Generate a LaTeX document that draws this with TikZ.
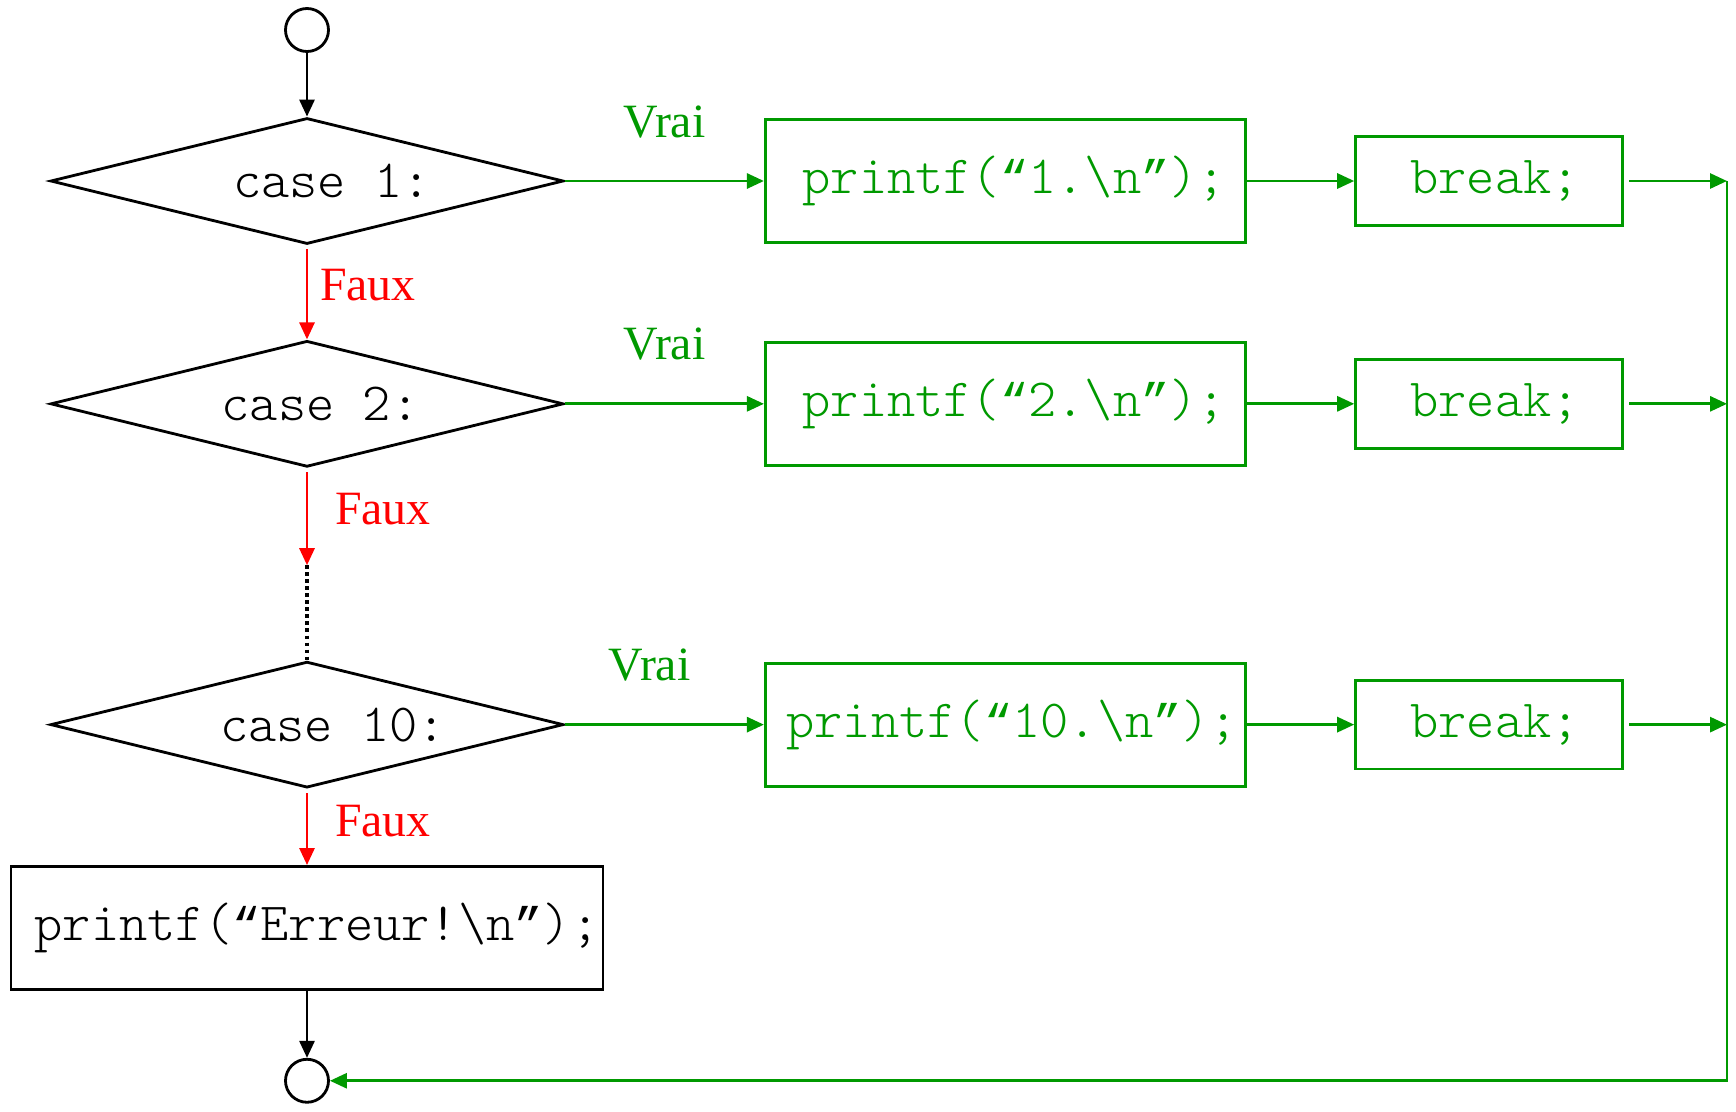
\documentclass[tikz,border=0pt]{standalone}
\usepackage{fontspec}
\setmainfont{Liberation Serif}
\setmonofont{Latin Modern Mono Light}
\newfontfamily\guilfont{Liberation Mono}
\newcommand{\qo}{{\guilfont\fontsize{13.4}{18}\selectfont “}}
\newcommand{\qf}{{\guilfont\fontsize{13.4}{18}\selectfont ”}}
\usepackage{tikz}
\usetikzlibrary{shapes.geometric, positioning, arrows.meta}
\definecolor{vert}{RGB}{0,153,0}
\definecolor{rouge}{RGB}{255,0,0}
\tikzset{
    >={Triangle[length=0.17cm, width=0.15cm]}, % filled arrow heads
    every node/.style={font=\fontsize{13.6}{16}\selectfont}, % labels in Times
    code/.style={font=\ttfamily\fontsize{15.3}{18}\selectfont}, % C code in a thin mono
    rond/.style={draw, circle, minimum size=0.43cm, inner sep=0pt}, % start and end
    cas/.style={code, draw, diamond, aspect=4, minimum width=5.13cm, minimum height=1.26cm, inner sep=0pt}, % the case tests
    bloc/.style={code, draw, rectangle, minimum height=1.23cm, inner sep=0pt}, % the printf boxes
    arret/.style={code, draw, rectangle, minimum width=2.67cm, minimum height=0.886cm, inner sep=0pt}, % the break boxes
    vrai/.style={->, vert}, % branch taken
    faux/.style={->, rouge, shorten <=0.04cm}, % branch not taken
    lblfaux/.style={pos=0.42, right=0.15cm}, % text beside the red arrows
}
\begin{document}
\begin{tikzpicture}[line width=0.8pt]
    \useasboundingbox (0,0) rectangle (17.36,-11.11);
    \node[rond] (debut) at (3.07,-0.30) {};
    \node[cas] (c1) at (3.07,-1.81) {\hspace*{0.5cm}case 1:};
    \node[cas, below=0.94cm of c1] (c2) {\hspace*{0.27cm}case 2:};
    \coordinate[below=0.97cm of c2.south] (pts);
    \node[cas, below=1.92cm of c2] (c10) {\hspace*{0.52cm}case 10:};
    \node[bloc, minimum width=5.92cm, below=0.76cm of c10] (err) {\hspace*{0.2cm}printf(\qo Erreur!\textbackslash n\qf);};
    \node[rond, below=0.67cm of err] (fin) {};
    \node[bloc, vert, minimum width=4.80cm, right=1.99cm of c1] (p1) {\hspace*{0.18cm}printf(\qo 1.\textbackslash n\qf);};
    \node[bloc, vert, minimum width=4.80cm, right=1.99cm of c2] (p2) {\hspace*{0.18cm}printf(\qo 2.\textbackslash n\qf);};
    \node[bloc, vert, minimum width=4.80cm, right=1.99cm of c10] (p10) {\hspace*{0.14cm}printf(\qo 10.\textbackslash n\qf);};
    \node[arret, vert, right=1.075cm of p1] (b1) {\hspace*{0.12cm}break;};
    \node[arret, vert, right=1.075cm of p2] (b2) {\hspace*{0.12cm}break;};
    \node[arret, vert, right=1.075cm of p10] (b10) {\hspace*{0.12cm}break;};
    \coordinate (droite) at (17.27,0);

    \draw[->] (debut) -- (c1);
    \draw[faux] (c1) -- node[lblfaux, right=0pt] {Faux} (c2);
    \draw[faux] (c2) -- node[lblfaux] {Faux} (pts);
    \draw[densely dotted, line width=1pt] (pts) -- (c10);
    \draw[faux] (c10) -- node[lblfaux] {Faux} (err);
    \draw[->] (err) -- (fin);

    \draw[vrai] (c1) -- node[above=0.3cm] {Vrai} (p1);
    \draw[vrai] (c2) -- node[above=0.3cm] {Vrai} (p2);
    \draw[vrai] (c10) -- node[above=0.3cm, xshift=-0.15cm] {Vrai} (p10);
    \draw[vrai] (p1) -- (b1);
    \draw[vrai] (p2) -- (b2);
    \draw[vrai] (p10) -- (b10);
    \draw[vrai, shorten <=0.05cm] (b1) -- (b1 -| droite);
    \draw[vrai, shorten <=0.05cm] (b2) -- (b2 -| droite);
    \draw[vrai, shorten <=0.05cm] (b10) -- (b10 -| droite);
    \draw[vrai] (b1 -| droite) -- (fin -| droite) -- (fin);
\end{tikzpicture}
\end{document}
